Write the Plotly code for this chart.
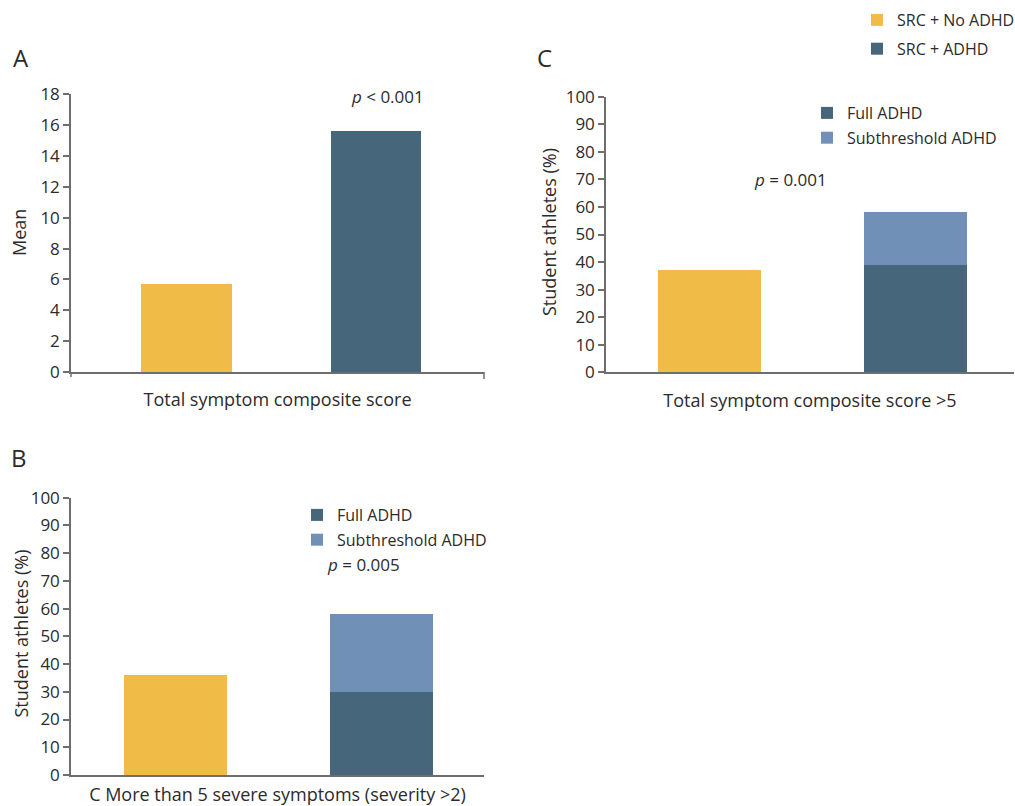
import plotly.graph_objects as go

# Groups compared in every panel
groups = ["SRC + No ADHD", "SRC + ADHD"]

# Panel A: mean total symptom composite score
mean_score = [5.7, 15.6]

# Panel C: % with total symptom composite score >5
c_no_adhd = [37]
c_full_adhd = [39]
c_sub_adhd = [19]

# Panel B: % with more than 5 severe symptoms (severity >2)
b_no_adhd = [36]
b_full_adhd = [30]
b_sub_adhd = [28]

W, H = 1015, 806
YELLOW = "#F0BB47"
DARK = "#46677B"
LIGHT = "#7190B8"
AXIS = "#6E6E6E"
TEXT = "#2B2B2B"
FONT = "Open Sans"


def px(x):
    return x / W


def py(y):
    return 1 - y / H


fig = go.Figure()

# Panel A
fig.add_trace(go.Bar(x=[groups[0]], y=[mean_score[0]], name=groups[0], marker_color=YELLOW,
                     width=0.48, xaxis="x", yaxis="y", legend="legend", legendgroup="g1"))
fig.add_trace(go.Bar(x=[groups[1]], y=[mean_score[1]], name=groups[1], marker_color=DARK,
                     width=0.48, xaxis="x", yaxis="y", legend="legend", legendgroup="g2"))

# Panel C
fig.add_trace(go.Bar(x=[groups[0]], y=c_no_adhd, name=groups[0], marker_color=YELLOW,
                     width=0.5, xaxis="x2", yaxis="y2", showlegend=False))
fig.add_trace(go.Bar(x=[groups[1]], y=c_full_adhd, name="Full ADHD", marker_color=DARK,
                     width=0.5, xaxis="x2", yaxis="y2", legend="legend2", legendgroup="c1"))
fig.add_trace(go.Bar(x=[groups[1]], y=c_sub_adhd, name="Subthreshold ADHD", marker_color=LIGHT,
                     width=0.5, xaxis="x2", yaxis="y2", legend="legend2", legendgroup="c2"))

# Panel B
fig.add_trace(go.Bar(x=[groups[0]], y=b_no_adhd, name=groups[0], marker_color=YELLOW,
                     width=0.5, xaxis="x3", yaxis="y3", showlegend=False))
fig.add_trace(go.Bar(x=[groups[1]], y=b_full_adhd, name="Full ADHD", marker_color=DARK,
                     width=0.5, xaxis="x3", yaxis="y3", legend="legend3", legendgroup="b1"))
fig.add_trace(go.Bar(x=[groups[1]], y=b_sub_adhd, name="Subthreshold ADHD", marker_color=LIGHT,
                     width=0.5, xaxis="x3", yaxis="y3", legend="legend3", legendgroup="b2"))

fig.update_traces(marker_line_width=0)

xcommon = dict(type="category", categoryorder="array", categoryarray=groups,
               showticklabels=False, ticks="", showgrid=False, zeroline=False,
               showline=True, linecolor=AXIS, linewidth=1.5, fixedrange=True,
               automargin=True,
               title_font=dict(family=FONT, size=18, color=TEXT))
ycommon = dict(showgrid=False, zeroline=False, showline=True, linecolor=AXIS, linewidth=1.5,
               ticks="outside", ticklen=6, tickwidth=1.5, tickcolor=AXIS,
               automargin=True,
               tickfont=dict(family=FONT, size=17, color=TEXT))

legend_font = dict(family=FONT, size=16, color=TEXT)

fig.update_layout(
    width=W, height=H,
    margin=dict(l=0, r=0, t=0, b=0, autoexpand=False),
    paper_bgcolor="white", plot_bgcolor="white",
    barmode="stack",
    font=dict(family=FONT, color=TEXT),
    xaxis=dict(xcommon, domain=[px(71), px(484)], anchor="y", range=[-0.61, 1.57],
               title=dict(text="Total symptom composite score", standoff=21)),
    yaxis=dict(ycommon, domain=[py(372), py(94.3)], anchor="x", range=[0, 18], dtick=2),
    xaxis2=dict(xcommon, domain=[px(606), px(1014)], anchor="y2", range=[-0.5, 1.478],
                title=dict(text="Total symptom composite score >5", standoff=21)),
    yaxis2=dict(ycommon, domain=[py(372.3), py(96.7)], anchor="x2", range=[0, 100], dtick=10),
    xaxis3=dict(xcommon, domain=[px(71), px(484)], anchor="y3", range=[-0.505, 1.5],
                title=dict(text="C More than 5 severe symptoms (severity >2)", standoff=15)),
    yaxis3=dict(ycommon, domain=[py(775), py(497.7)], anchor="x3", range=[0, 100], dtick=10),
    legend=dict(x=px(857), y=py(3), xanchor="left", yanchor="top", font=legend_font,
                tracegroupgap=5, bgcolor="rgba(0,0,0,0)"),
    legend2=dict(x=px(807), y=py(96), xanchor="left", yanchor="top", font=legend_font,
                 tracegroupgap=1, bgcolor="rgba(0,0,0,0)"),
    legend3=dict(x=px(297), y=py(498), xanchor="left", yanchor="top", font=legend_font,
                 tracegroupgap=1, bgcolor="rgba(0,0,0,0)"),
    showlegend=True,
)

# End ticks under the x axis of panel A
for xv, drop in ((71, 5), (484, 7)):
    fig.add_shape(type="line", xref="paper", yref="paper", x0=px(xv), x1=px(xv),
                  y0=py(372), y1=py(372 + drop), line=dict(color=AXIS, width=1.5))

# Vertical axis titles
y_titles = [
    ("Mean", 19.5, 232.5),
    ("Student athletes (%)", 549, 232),
    ("Student athletes (%)", 20, 633.5),
]
for txt, x, y in y_titles:
    fig.add_annotation(xref="paper", yref="paper", x=px(x), y=py(y), text=txt,
                       textangle=-90, showarrow=False, xanchor="center", yanchor="middle",
                       font=dict(family=FONT, size=18, color=TEXT))

# Panel letters
annotations = [
    dict(text="A", x=px(21), y=py(57)),
    dict(text="C", x=px(544), y=py(57)),
    dict(text="B", x=px(19), y=py(457)),
]
for a in annotations:
    fig.add_annotation(xref="paper", yref="paper", x=a["x"], y=a["y"], text=a["text"],
                       showarrow=False, xanchor="center", yanchor="middle",
                       font=dict(family=FONT, size=24, color=TEXT))

p_values = [
    ("<i>p</i> &lt; 0.001", 387, 97),
    ("<i>p</i> = 0.001", 790, 179),
    ("<i>p</i> = 0.005", 363, 564),
]
for txt, x, y in p_values:
    fig.add_annotation(xref="paper", yref="paper", x=px(x), y=py(y), text=txt,
                       showarrow=False, xanchor="center", yanchor="middle",
                       font=dict(family=FONT, size=17, color=TEXT))

fig.write_html("out.html")
